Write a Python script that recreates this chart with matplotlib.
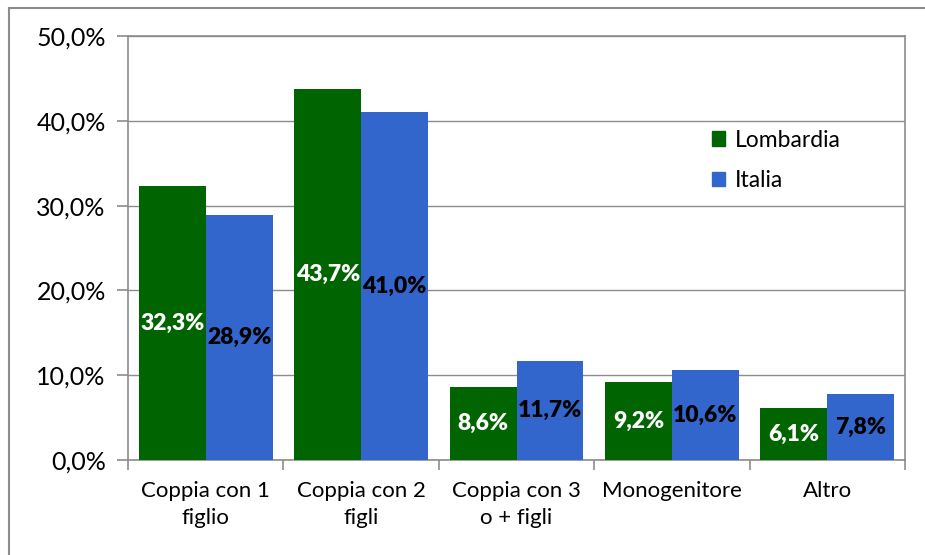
import matplotlib

matplotlib.use("Agg")
import matplotlib.pyplot as plt
import numpy as np
from matplotlib.lines import Line2D
from matplotlib.patches import Patch

categories = ["Coppia con 1\nfiglio", "Coppia con 2\nfigli", "Coppia con 3\no + figli",
              "Monogenitore", "Altro"]
lombardia = [32.3, 43.7, 8.6, 9.2, 6.1]
italia = [28.9, 41.0, 11.7, 10.6, 7.8]
y_ticks = [0, 10, 20, 30, 40, 50]

GREEN = "#006400"
BLUE = "#3366CC"
GRAY = "#8c8c8c"
FS = 16.5

plt.rcParams["font.family"] = ["Lato", "DejaVu Sans"]

fig = plt.figure(figsize=(9.25, 5.55), dpi=100)
ax = fig.add_axes([128 / 925, 1 - 460 / 555, (905 - 128) / 925, (460 - 36) / 555])

# outer chart frame (only left and top edges visible in the original)
fig.add_artist(Line2D([9 / 925, 9 / 925], [0, 1 - 8 / 555], color=GRAY, lw=1.5))
fig.add_artist(Line2D([9 / 925, 1], [1 - 8 / 555, 1 - 8 / 555], color=GRAY, lw=1.5))

x = np.arange(len(categories))
w = 0.43
b1 = ax.bar(x - w / 2, lombardia, w, color=GREEN, zorder=3)
b2 = ax.bar(x + w / 2, italia, w, color=BLUE, zorder=3)


def fmt(v):
    return f"{v:.1f}%".replace(".", ",")


for rect, v in zip(b1, lombardia):
    ax.text(rect.get_x() + rect.get_width() / 2, v / 2, fmt(v), ha="center", va="center",
            color="white", fontsize=FS, fontweight="heavy", zorder=4)
for rect, v in zip(b2, italia):
    ax.text(rect.get_x() + rect.get_width() / 2, v / 2, fmt(v), ha="center", va="center",
            color="black", fontsize=FS, fontweight="heavy", zorder=4)

ax.set_xlim(-0.5, len(categories) - 0.5)
ax.set_ylim(0, 50)
ax.set_yticks(y_ticks)
ax.set_yticklabels([fmt(t) for t in y_ticks], fontsize=18)
ax.yaxis.grid(True, color=GRAY, lw=1, zorder=0)

ax.set_xticks(np.arange(len(categories) + 1) - 0.5)
ax.set_xticklabels([])
ax.set_xticks(x, minor=True)
ax.set_xticklabels(categories, minor=True, fontsize=16, linespacing=1.45)
ax.tick_params(axis="x", which="minor", length=0, pad=15)
ax.tick_params(axis="x", which="major", length=7, color=GRAY, width=1.2)
ax.tick_params(axis="y", length=8, color=GRAY, width=1.2, pad=8)

for side in ["left", "bottom", "right", "top"]:
    ax.spines[side].set_color(GRAY)
    ax.spines[side].set_linewidth(1.2)

handles = [Patch(color=GREEN), Patch(color=BLUE)]
ax.legend(handles, ["Lombardia", "Italia"], loc="upper left",
          bbox_to_anchor=(563 / 777, 351 / 424), frameon=False, fontsize=FS,
          handlelength=0.6, handleheight=0.6, handletextpad=0.4, labelspacing=0.85)

fig.savefig("out.png", dpi=100)
